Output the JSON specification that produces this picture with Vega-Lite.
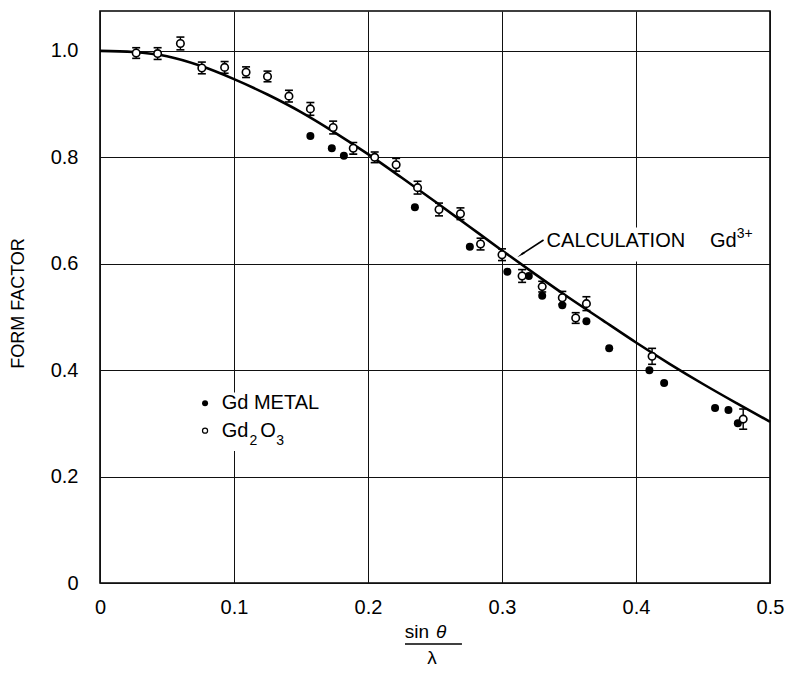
{
  "$schema": "https://vega.github.io/schema/vega-lite/v6.json",
  "width": 670,
  "height": 572,
  "autosize": {"type": "none"},
  "padding": {"left": 100, "top": 11, "right": 18, "bottom": 90},
  "background": "white",
  "config": {
    "font": "Liberation Sans",
    "view": {"stroke": "black", "strokeWidth": 1.6},
    "axis": {
      "domain": false,
      "ticks": false,
      "grid": true,
      "gridColor": "#111",
      "gridWidth": 1,
      "gridOpacity": 1,
      "labelFlush": false,
      "labelFont": "Liberation Sans",
      "labelFontSize": 20,
      "labelColor": "black",
      "titleFont": "Liberation Sans",
      "titleColor": "black",
      "titleFontWeight": "normal"
    }
  },
  "datasets": {
    "curve": [
      {"s": 0.0, "f": 1.0},
      {"s": 0.025, "f": 0.998},
      {"s": 0.05, "f": 0.99},
      {"s": 0.075, "f": 0.972},
      {"s": 0.1, "f": 0.947},
      {"s": 0.125, "f": 0.918},
      {"s": 0.15, "f": 0.885},
      {"s": 0.175, "f": 0.847},
      {"s": 0.2, "f": 0.806},
      {"s": 0.225, "f": 0.762},
      {"s": 0.25, "f": 0.717},
      {"s": 0.275, "f": 0.671},
      {"s": 0.3, "f": 0.625},
      {"s": 0.325, "f": 0.58},
      {"s": 0.35, "f": 0.536},
      {"s": 0.375, "f": 0.494},
      {"s": 0.4, "f": 0.452},
      {"s": 0.425, "f": 0.412},
      {"s": 0.45, "f": 0.374},
      {"s": 0.475, "f": 0.338},
      {"s": 0.5, "f": 0.303}
    ],
    "oxide": [
      {"s": 0.027, "f": 0.996, "lo": 0.986, "hi": 1.006},
      {"s": 0.043, "f": 0.995, "lo": 0.984, "hi": 1.006},
      {"s": 0.06, "f": 1.014, "lo": 1.002, "hi": 1.026},
      {"s": 0.076, "f": 0.968, "lo": 0.957, "hi": 0.979},
      {"s": 0.093, "f": 0.969, "lo": 0.958, "hi": 0.98},
      {"s": 0.109, "f": 0.96, "lo": 0.95, "hi": 0.97},
      {"s": 0.125, "f": 0.952, "lo": 0.942, "hi": 0.962},
      {"s": 0.141, "f": 0.915, "lo": 0.904, "hi": 0.926},
      {"s": 0.157, "f": 0.891, "lo": 0.879, "hi": 0.903},
      {"s": 0.174, "f": 0.856, "lo": 0.844, "hi": 0.868},
      {"s": 0.189, "f": 0.817, "lo": 0.806, "hi": 0.828},
      {"s": 0.205, "f": 0.8, "lo": 0.79, "hi": 0.81},
      {"s": 0.221, "f": 0.786, "lo": 0.774, "hi": 0.798},
      {"s": 0.237, "f": 0.743, "lo": 0.731, "hi": 0.755},
      {"s": 0.253, "f": 0.702, "lo": 0.69, "hi": 0.714},
      {"s": 0.269, "f": 0.694, "lo": 0.683, "hi": 0.705},
      {"s": 0.284, "f": 0.637, "lo": 0.626, "hi": 0.648},
      {"s": 0.3, "f": 0.617, "lo": 0.606, "hi": 0.628},
      {"s": 0.315, "f": 0.577, "lo": 0.565, "hi": 0.589},
      {"s": 0.33, "f": 0.557, "lo": 0.547, "hi": 0.567},
      {"s": 0.345, "f": 0.536, "lo": 0.524, "hi": 0.548},
      {"s": 0.355, "f": 0.498, "lo": 0.488, "hi": 0.508},
      {"s": 0.363, "f": 0.525, "lo": 0.512, "hi": 0.538},
      {"s": 0.412, "f": 0.426, "lo": 0.411, "hi": 0.441},
      {"s": 0.48, "f": 0.308, "lo": 0.289, "hi": 0.327}
    ],
    "metal": [
      {"s": 0.157, "f": 0.84},
      {"s": 0.173, "f": 0.817},
      {"s": 0.182, "f": 0.803},
      {"s": 0.235, "f": 0.706},
      {"s": 0.276, "f": 0.632},
      {"s": 0.304, "f": 0.585},
      {"s": 0.32, "f": 0.577},
      {"s": 0.33, "f": 0.54},
      {"s": 0.345, "f": 0.522},
      {"s": 0.363, "f": 0.492},
      {"s": 0.38, "f": 0.441},
      {"s": 0.41, "f": 0.4},
      {"s": 0.421, "f": 0.376},
      {"s": 0.459, "f": 0.329},
      {"s": 0.469, "f": 0.325},
      {"s": 0.476, "f": 0.3}
    ]
  },
  "encoding": {
    "x": {
      "field": "s",
      "type": "quantitative",
      "scale": {"domain": [0, 0.5], "nice": false, "zero": false},
      "axis": {
        "values": [0, 0.1, 0.2, 0.3, 0.4, 0.5],
        "labelExpr": "datum.value == 0 ? '0' : format(datum.value, '.1f')",
        "labelPadding": 14,
        "title": null
      }
    },
    "y": {
      "field": "f",
      "type": "quantitative",
      "scale": {"domain": [0, 1.075], "nice": false, "zero": false},
      "axis": {
        "values": [0, 0.2, 0.4, 0.6, 0.8, 1.0],
        "labelExpr": "datum.value == 0 ? '0' : format(datum.value, '.1f')",
        "labelPadding": 22,
        "title": "FORM FACTOR",
        "titleFontSize": 18,
        "titleX": -82,
        "titleY": 292,
        "titleAngle": 270,
        "titleAlign": "center",
        "titleBaseline": "middle"
      }
    }
  },
  "layer": [
    {
      "data": {"values": [
        {"s": 0.075, "s2": 0.17, "f": 0.248, "f2": 0.358},
        {"s": 0.336, "s2": 0.47, "f": 0.604, "f2": 0.668}
      ]},
      "mark": {"type": "rect", "color": "white", "opacity": 1},
      "encoding": {"x2": {"field": "s2"}, "y2": {"field": "f2"}}
    },
    {
      "data": {"name": "curve"},
      "mark": {"type": "line", "color": "black", "strokeWidth": 2.6, "interpolate": "monotone"}
    },
    {
      "data": {"name": "oxide"},
      "mark": {"type": "rule", "color": "black", "strokeWidth": 1.4},
      "encoding": {"y": {"field": "lo", "type": "quantitative"}, "y2": {"field": "hi"}}
    },
    {
      "data": {"name": "oxide"},
      "mark": {"type": "tick", "orient": "horizontal", "color": "black", "size": 8, "thickness": 1.6, "opacity": 1},
      "encoding": {"y": {"field": "lo", "type": "quantitative"}}
    },
    {
      "data": {"name": "oxide"},
      "mark": {"type": "tick", "orient": "horizontal", "color": "black", "size": 8, "thickness": 1.6, "opacity": 1},
      "encoding": {"y": {"field": "hi", "type": "quantitative"}}
    },
    {
      "data": {"name": "metal"},
      "mark": {"type": "point", "shape": "circle", "filled": true, "color": "black", "size": 64, "opacity": 1}
    },
    {
      "data": {"name": "oxide"},
      "mark": {"type": "point", "shape": "circle", "filled": true, "fill": "white", "stroke": "black", "strokeWidth": 1.6, "size": 56, "opacity": 1, "fillOpacity": 1}
    },
    {
      "data": {"values": [{"s": 0.0784, "f": 0.3378}]},
      "mark": {"type": "point", "shape": "circle", "filled": true, "color": "black", "size": 36, "opacity": 1}
    },
    {
      "data": {"values": [{"s": 0.0784, "f": 0.2863}]},
      "mark": {"type": "point", "shape": "circle", "filled": true, "fill": "white", "stroke": "black", "strokeWidth": 1.2, "size": 26, "opacity": 1}
    },
    {
      "data": {"values": [
        {"s": 0.0908, "f": 0.327, "t": "Gd METAL"},
        {"s": 0.0908, "f": 0.275, "t": "Gd"},
        {"s": 0.1195, "f": 0.275, "t": "O"},
        {"s": 0.3333, "f": 0.631, "t": "CALCULATION"},
        {"s": 0.4552, "f": 0.631, "t": "Gd"}
      ]},
      "mark": {"type": "text", "align": "left", "baseline": "alphabetic", "fontSize": 20, "color": "black"},
      "encoding": {"text": {"field": "t"}}
    },
    {
      "data": {"values": [
        {"s": 0.1115, "f": 0.2594, "t": "2"},
        {"s": 0.1315, "f": 0.2594, "t": "3"},
        {"s": 0.4752, "f": 0.648, "t": "3+"}
      ]},
      "mark": {"type": "text", "align": "left", "baseline": "alphabetic", "fontSize": 14, "color": "black"},
      "encoding": {"text": {"field": "t"}}
    },
    {
      "data": {"values": [{"s": 0.331, "f": 0.6447, "s2": 0.3145, "f2": 0.6175}]},
      "mark": {"type": "rule", "color": "black", "strokeWidth": 1.6},
      "encoding": {"x2": {"field": "s2"}, "y2": {"field": "f2"}}
    },
    {
      "data": {"values": [{"s": 0.3148, "f": 0.618}]},
      "mark": {"type": "point", "shape": "wedge", "filled": true, "color": "black", "size": 90, "angle": 236, "opacity": 1}
    },
    {
      "data": {"values": [{"s": 0.2455, "f": -0.1034, "t": "sin"}]},
      "mark": {"type": "text", "align": "right", "baseline": "alphabetic", "fontSize": 19, "color": "black", "clip": false},
      "encoding": {"text": {"field": "t"}}
    },
    {
      "data": {"values": [{"s": 0.2507, "f": -0.1034, "t": "θ"}]},
      "mark": {"type": "text", "align": "left", "baseline": "alphabetic", "fontSize": 19, "fontStyle": "italic", "color": "black", "clip": false},
      "encoding": {"text": {"field": "t"}}
    },
    {
      "data": {"values": [{"s": 0.2276, "f": -0.1147, "s2": 0.2701}]},
      "mark": {"type": "rule", "color": "black", "strokeWidth": 1.4, "clip": false},
      "encoding": {"x2": {"field": "s2"}}
    },
    {
      "data": {"values": [{"s": 0.2478, "f": -0.1523, "t": "λ"}]},
      "mark": {"type": "text", "align": "center", "baseline": "alphabetic", "fontSize": 19, "color": "black", "clip": false},
      "encoding": {"text": {"field": "t"}}
    }
  ]
}
